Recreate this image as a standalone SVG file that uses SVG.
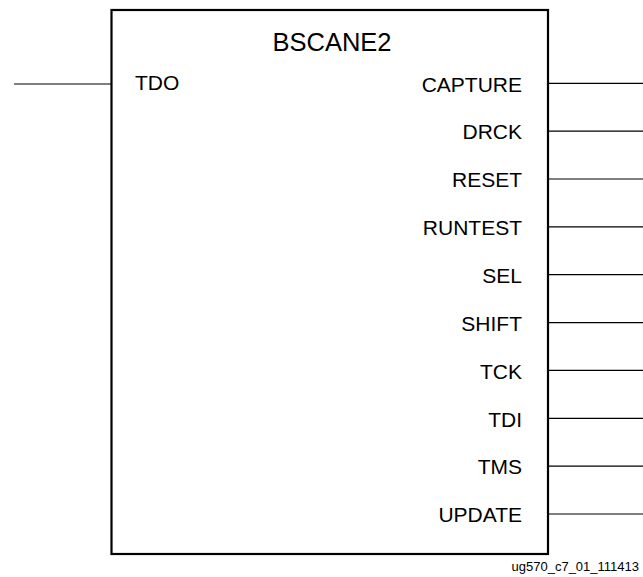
<svg xmlns="http://www.w3.org/2000/svg" width="643" height="577" viewBox="0 0 643 577">
<style>
.lbl{font-family:"Liberation Sans",Arial,Helvetica,sans-serif;font-size:21px;fill:#000}
.r{text-anchor:end}
.pin{stroke:#000;stroke-width:1.2;fill:none}
</style>
<rect width="643" height="577" fill="#fff"/>
<g id="connectors">
<line class="pin" x1="14" y1="84" x2="111" y2="84"/>
<line class="pin" x1="548" y1="83.3" x2="643" y2="83.3"/>
<line class="pin" x1="548" y1="131.2" x2="643" y2="131.2"/>
<line class="pin" x1="548" y1="179" x2="643" y2="179"/>
<line class="pin" x1="548" y1="226.9" x2="643" y2="226.9"/>
<line class="pin" x1="548" y1="274.7" x2="643" y2="274.7"/>
<line class="pin" x1="548" y1="322.6" x2="643" y2="322.6"/>
<line class="pin" x1="548" y1="370.4" x2="643" y2="370.4"/>
<line class="pin" x1="548" y1="418.3" x2="643" y2="418.3"/>
<line class="pin" x1="548" y1="466.1" x2="643" y2="466.1"/>
<line class="pin" x1="548" y1="514" x2="643" y2="514"/>
</g>
<g id="bscane2">
<rect x="111.5" y="10" width="436.5" height="544" fill="#fff" stroke="#000" stroke-width="2.2"/>
<text class="lbl" x="332" y="51" text-anchor="middle" style="font-size:25.5px">BSCANE2</text>
<text class="lbl" x="135" y="90">TDO</text>
<text class="lbl r" x="522" y="91.5">CAPTURE</text>
<text class="lbl r" x="522" y="139.4">DRCK</text>
<text class="lbl r" x="522" y="187.2">RESET</text>
<text class="lbl r" x="522" y="235.1">RUNTEST</text>
<text class="lbl r" x="522" y="282.9">SEL</text>
<text class="lbl r" x="522" y="330.8">SHIFT</text>
<text class="lbl r" x="522" y="378.6">TCK</text>
<text class="lbl r" x="522" y="426.5">TDI</text>
<text class="lbl r" x="522" y="474.3">TMS</text>
<text class="lbl r" x="522" y="522.2">UPDATE</text>
</g>
<text id="fig-id" class="lbl" x="639" y="571" text-anchor="end" style="font-size:13px">ug570_c7_01_111413</text>
</svg>
